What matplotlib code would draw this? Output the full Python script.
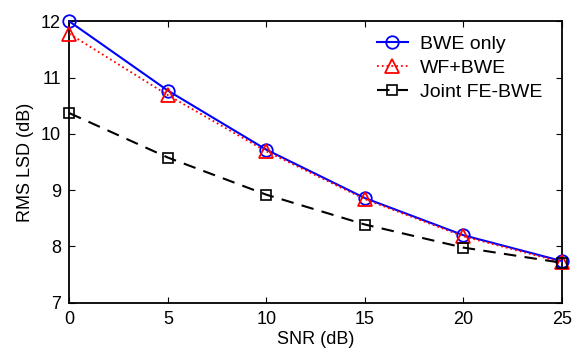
import matplotlib
matplotlib.use('Agg')
import matplotlib.pyplot as plt

snr = [0, 5, 10, 15, 20, 25]
bwe_only = [12.0, 10.77, 9.72, 8.86, 8.20, 7.74]
wf_bwe = [11.78, 10.69, 9.69, 8.84, 8.18, 7.72]
joint_fe_bwe = [10.37, 9.58, 8.92, 8.39, 7.98, 7.71]

plt.rcParams['font.family'] = ['Liberation Sans', 'DejaVu Sans']
plt.rcParams['font.size'] = 13

fig = plt.figure(figsize=(5.74, 3.52), dpi=100)
ax = fig.add_axes([0.121, 0.140, 0.858, 0.799])

ax.plot(snr, bwe_only, '-o', color='blue', lw=1.5, ms=9, mfc='none', mew=1.3,
        clip_on=False, zorder=3, label='BWE only')
ax.plot(snr, wf_bwe, ':^', color='red', lw=1.3, ms=10, mfc='none', mew=1.3,
        clip_on=False, zorder=3, label='WF+BWE')
ax.plot(snr, joint_fe_bwe, '--s', color='black', lw=1.5, ms=7, mfc='none', mew=1.2,
        dashes=(6, 4), clip_on=False, zorder=3, label='Joint FE-BWE')

ax.set_xlim(0, 25)
ax.set_ylim(7, 12)
ax.set_xticks(snr)
ax.set_yticks([7, 8, 9, 10, 11, 12])
ax.tick_params(direction='in', top=True, right=True, length=4, width=0.8, pad=6)
for s in ax.spines.values():
    s.set_linewidth(1.3)
ax.set_xlabel('SNR (dB)', labelpad=2)
ax.set_ylabel('RMS LSD (dB)', labelpad=5)

leg = ax.legend(loc='upper left', bbox_to_anchor=(0.624, 0.95), frameon=False,
                fontsize=14, handlelength=1.6, borderpad=0, borderaxespad=0,
                labelspacing=0.32, handletextpad=0.6)

fig.savefig('out.png', dpi=100)
